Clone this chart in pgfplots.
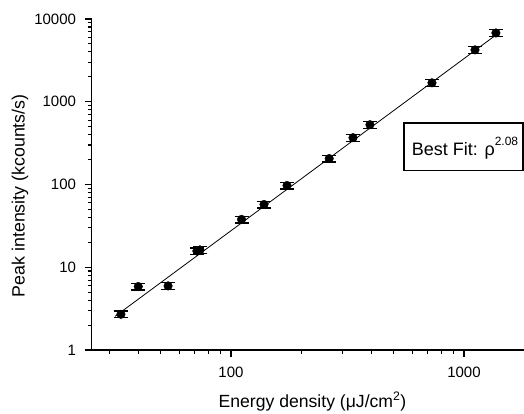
\documentclass[border=0pt]{standalone}
\usepackage{pgfplots}
\pgfplotsset{compat=1.18}
\usepackage{fontspec}
\setmainfont{Liberation Sans}

\begin{document}
\begin{tikzpicture}
\begin{axis}[
  name=ax,
  scale only axis,
  width=432.5pt, height=331pt,
  xmode=log, ymode=log,
  xmin=25.2, xmax=1810, ymin=1, ymax=10000,
  axis x line=bottom, axis y line=left,
  axis line style={-, line width=1.2pt},
  tick align=outside,
  major tick length=7pt, minor tick length=4pt,
  every tick/.style={black, line width=1.1pt},
  xtick={100,1000}, xticklabels={100,1000},
  minor xtick={30,40,50,60,70,80,90,200,300,400,500,600,700,800,900},
  ytick={1,10,100,1000,10000}, yticklabels={1,10,100,1000,10000},
  minor ytick={2,3,4,5,6,7,8,9,20,30,40,50,60,70,80,90,200,300,400,500,600,700,800,900,2000,3000,4000,5000,6000,7000,8000,9000},
  ticklabel style={font=\fontsize{15}{18}\selectfont},
  xticklabel style={yshift=-6pt},
  yticklabel style={xshift=-5pt},
  xlabel={Energy density (μJ/cm\textsuperscript{2})},
  ylabel={Peak intensity (kcounts/s)},
  every axis x label/.style={at={(axis description cs:0.511,0)}, anchor=base, yshift=-57pt, font=\fontsize{17.6}{20}\selectfont},
  every axis y label/.style={at={(axis description cs:0,0.466)}, anchor=center, rotate=90, yshift=71.5pt, font=\fontsize{17.8}{20}\selectfont},
  clip=false,
]
\addplot[black, line width=0.8pt] coordinates {(31.8,2.55) (1380,6486)};
\addplot[only marks, mark=*, mark size=4.3pt, mark options={fill=black, draw=black},
  error bars/.cd, y dir=both, y explicit,
  error bar style={black, line width=1.3pt},
  error mark options={black, rotate=90, mark size=7pt, line width=1.3pt}]
  table[x=x, y=y, y error=e] {
x y e
33.7 2.70 0.25
40 5.85 0.55
53.7 5.95 0.55
71.4 15.7 1.45
73.6 16.2 1.5
111 37.9 3.5
138.6 57.4 5.3
174 97.3 9
264 206 19
334 368 34
395 528 49
729 1694 157
1115 4233 390
1371 6780 625
};
\draw[line width=1.2pt] (rel axis cs:0.7225,0.6858) rectangle (rel axis cs:0.9977,0.5423);
\node[anchor=base, inner sep=0pt, font=\fontsize{18}{21}\selectfont] at (rel axis cs:0.8636,0.589) {Best Fit: ρ\raisebox{10pt}{\fontsize{12}{14}\selectfont 2.08}};
\end{axis}
\pgfresetboundingbox
\path[use as bounding box] ([xshift=-91.5pt,yshift=-63pt]ax.south west) rectangle ([yshift=19pt]ax.north east);
\end{tikzpicture}
\end{document}
